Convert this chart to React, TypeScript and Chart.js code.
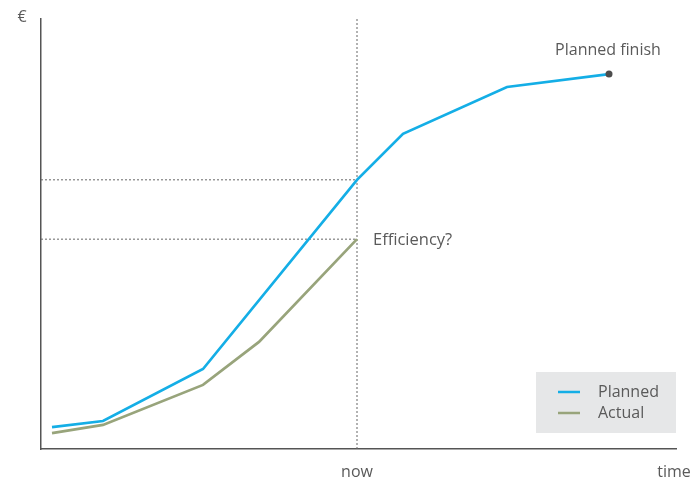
import React, { useEffect, useRef } from "react";
import { Chart, registerables } from "chart.js";

Chart.register(...registerables);

const plannedX = [2.2, 12.4, 32.4, 63.2, 72.4, 93.2, 113.6];
const plannedY = [5.1, 6.5, 18.6, 62.6, 73.3, 84.2, 87.2];
const actualX = [2.2, 12.4, 32.4, 43.6, 63.2];
const actualY = [3.7, 5.6, 14.9, 24.9, 48.8];
const seriesLabels = ["Planned", "Actual"];
const seriesColors = ["#14aee6", "#98a47b"];
const axisLabels = { y: "€", x: "time", now: "now" };
const annotationLabels = { finish: "Planned finish", efficiency: "Efficiency?" };

const X_MAX = 127;
const Y_MAX = 100;
const FONT = "'Open Sans', 'Noto Sans', sans-serif";
const TEXT = "#5a5a5a";

export default function App() {
  const ref = useRef<HTMLCanvasElement | null>(null);

  useEffect(() => {
    document.body.style.margin = "0";
    const canvas = ref.current;
    if (!canvas) return;

    const nowIdx = actualX.length - 1;
    const nowX = actualX[nowIdx];
    const plannedNowY = plannedY[plannedX.indexOf(nowX)];
    const actualNowY = actualY[nowIdx];

    const dotted = {
      borderColor: "#666",
      borderWidth: 1,
      borderDash: [2, 2],
      pointRadius: 0,
      fill: false,
      tension: 0,
    };

    const overlay = {
      id: "overlay",
      afterDatasetsDraw(chart: any) {
        const { ctx, chartArea, scales } = chart;
        const xs = scales.x;
        const ys = scales.y;
        ctx.save();
        ctx.fillStyle = TEXT;
        ctx.font = `16px ${FONT}`;
        ctx.textBaseline = "middle";

        ctx.textAlign = "center";
        ctx.fillText(axisLabels.y, 22, 17);
        ctx.fillText(axisLabels.now, xs.getPixelForValue(nowX), 472);
        ctx.fillText(axisLabels.x, 674, 472);

        const lastI = plannedX.length - 1;
        ctx.fillText(
          annotationLabels.finish,
          xs.getPixelForValue(plannedX[lastI]) - 1,
          ys.getPixelForValue(plannedY[lastI]) - 24
        );
        ctx.textAlign = "left";
        ctx.font = `16.5px ${FONT}`;
        ctx.fillText(
          annotationLabels.efficiency,
          xs.getPixelForValue(nowX) + 16,
          ys.getPixelForValue(actualNowY) + 1
        );

        // legend
        ctx.font = `16px ${FONT}`;
        const bx = chartArea.right - 140;
        const by = chartArea.bottom - 77;
        ctx.fillStyle = "#e6e7e8";
        ctx.fillRect(bx, by, 140, 61);
        const sets = chart.data.datasets.slice(0, 2);
        sets.forEach((ds: any, i: number) => {
          const yy = by + 20 + i * 21;
          ctx.strokeStyle = ds.borderColor;
          ctx.lineWidth = 2.5;
          ctx.beginPath();
          ctx.moveTo(bx + 22, yy);
          ctx.lineTo(bx + 44, yy);
          ctx.stroke();
          ctx.fillStyle = TEXT;
          ctx.textAlign = "left";
          ctx.fillText(ds.label, bx + 62, yy);
        });
        ctx.restore();
      },
    };

    const chart = new Chart(canvas, {
      type: "line",
      data: {
        datasets: [
          {
            label: seriesLabels[0],
            data: plannedX.map((x, i) => ({ x, y: plannedY[i] })),
            borderColor: seriesColors[0],
            borderWidth: 2.7,
            pointRadius: plannedX.map((_, i) => (i === plannedX.length - 1 ? 3.5 : 0)),
            pointBackgroundColor: "#4d4d4d",
            pointBorderWidth: 0,
            tension: 0,
            order: 1,
          },
          {
            label: seriesLabels[1],
            data: actualX.map((x, i) => ({ x, y: actualY[i] })),
            borderColor: seriesColors[1],
            borderWidth: 2.7,
            pointRadius: 0,
            tension: 0,
            order: 2,
          },
          {
            label: "_h1",
            data: [
              { x: 0, y: plannedNowY },
              { x: nowX, y: plannedNowY },
            ],
            ...dotted,
            order: 3,
          },
          {
            label: "_h2",
            data: [
              { x: 0, y: actualNowY },
              { x: nowX, y: actualNowY },
            ],
            ...dotted,
            order: 3,
          },
          {
            label: "_v",
            data: [
              { x: nowX, y: 0 },
              { x: nowX, y: Y_MAX },
            ],
            ...dotted,
            order: 3,
          },
        ],
      },
      options: {
        animation: false,
        responsive: false,
        maintainAspectRatio: false,
        layout: { padding: { left: 41, right: 17, top: 19, bottom: 34 } },
        plugins: { legend: { display: false }, tooltip: { enabled: false } },
        scales: {
          x: {
            type: "linear",
            min: 0,
            max: X_MAX,
            ticks: { display: false },
            grid: { display: false, drawTicks: false },
            border: { display: true, color: "#555", width: 1.5 },
          },
          y: {
            type: "linear",
            min: 0,
            max: Y_MAX,
            ticks: { display: false },
            grid: { display: false, drawTicks: false },
            border: { display: true, color: "#555", width: 1.5 },
          },
        },
      },
      plugins: [overlay],
    });

    return () => chart.destroy();
  }, []);

  return (
    <div style={{ width: 693, height: 483 }}>
      <canvas ref={ref} width={693} height={483} style={{ width: 693, height: 483 }} />
    </div>
  );
}
